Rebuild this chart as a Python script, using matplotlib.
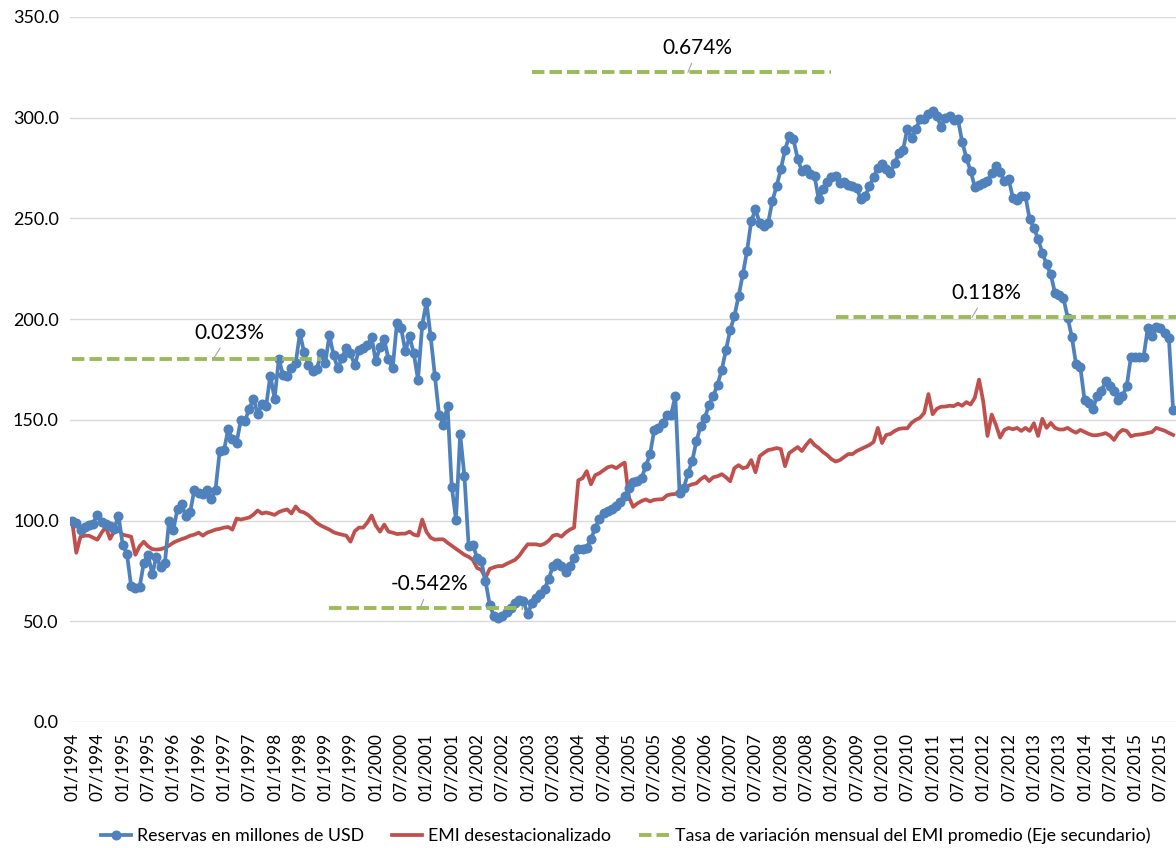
import numpy as np
import pandas as pd
import matplotlib
matplotlib.use("Agg")
import matplotlib.pyplot as plt

plt.rcParams['font.family'] = ['Lato', 'DejaVu Sans']

# monthly categories 01/1994 .. 12/2015
months = pd.date_range("1994-01-01", "2015-12-01", freq="MS")
labels = [d.strftime("%m/%Y") for d in months]

# Reservas en millones de USD (from 01/1994)
reservas = [
    100, 98.8, 95.5, 96.7, 98, 98.5, 103, 99.2, 98.5, 97.2, 95.9, 102.5,
    88, 83.6, 67.3, 66.5, 66.8, 79, 83, 73.5, 82, 77, 79, 100,
    95.5, 105.8, 108, 102.2, 104.3, 115.4, 113.8, 113, 115.4, 110.8, 115.4, 134.5,
    134.8, 145.3, 140.3, 138.6, 150, 149.5, 155.5, 160.5, 153, 157.7, 157, 172,
    160.5, 180, 172.5, 171.8, 175.8, 178, 193, 183.5, 177, 174, 175, 183,
    178, 192, 182, 175.5, 180.8, 185.6, 183, 177, 184.7, 185.6, 187, 191,
    179, 186.4, 190, 180, 175.6, 198, 195.5, 184, 191.4, 183, 170, 197,
    208.5, 191.4, 171.7, 152.4, 147.5, 157, 116.9, 100.5, 142.9, 122.2, 87.6, 88,
    81.5, 79.8, 70, 58.3, 52.5, 51.5, 52.5, 54.5, 56.8, 59, 60.8, 60,
    53.5, 59, 61.5, 63.5, 66, 71, 77.5, 78.7, 77.4, 74.5, 77.4, 81.5,
    85.7, 86, 86.5, 90.6, 96.4, 100.6, 103.9, 104.5, 105.5, 107, 109, 112,
    116, 119, 119.5, 121, 127, 132.8, 145, 146, 148.5, 152.6, 152.6, 161.8,
    113.7, 116, 123.6, 129.5, 139.4, 146.9, 151, 157.6, 161.8, 167.5, 174.7, 184.6,
    194.5, 201.5, 211.4, 222.2, 233.8, 248.7, 254.5, 247.8, 246.2, 247.8, 258.6, 266,
    274.3, 283.9, 290.9, 289.2, 279.6, 273.5, 274.3, 271.9, 271, 259.4, 264.4, 268,
    270.6, 271, 267.7, 268, 266.8, 266, 265.2, 259.4, 261, 266, 270.6, 275.1,
    276.8, 274.3, 272.6, 277.3, 282.3, 284.2, 294.5, 290, 294.2, 299.2, 299.5, 301.7,
    303.3, 300.8, 295.5, 300, 300.8, 298.8, 299.2, 288, 280, 273.5, 265.7, 266.4,
    267.7, 268.5, 272.4, 276, 273, 268.5, 269.7, 260.3, 259.1, 261, 261, 249.5,
    245.4, 239.6, 233, 227.2, 222.2, 213, 211.8, 210.6, 200.7, 191.2, 177.5, 176.3,
    160, 158.4, 155.4, 162, 164.2, 169.2, 166.7, 164.2, 160, 161.7, 166.7, 181.2,
    181.2, 181.2, 181.2, 195.6, 191.4, 196, 195.6, 193, 190.6, 155,
]

# EMI desestacionalizado
emi = [
    100, 84, 92, 92.5, 92.5, 91.5, 90.5, 94, 96.8, 90.9, 94.7, 95.2,
    93, 92.5, 92, 83, 87.2, 89.5, 87.2, 85.8, 85.6, 85.8, 86.5, 87.6,
    89, 90, 90.8, 91.5, 92.5, 93, 94, 92.5, 94, 94.7, 95.5, 95.9,
    96.5, 96.8, 95.5, 101, 100.5, 101, 101.5, 103, 105, 103.5, 104, 103.5,
    102.8, 104.2, 105, 105.5, 103.5, 107, 104.6, 104, 102.7, 100.8, 98.8, 97.5,
    96.5, 95.5, 94.2, 93.5, 93, 92.5, 89.5, 94.7, 96.5, 96.5, 99, 102.5,
    97.5, 94.5, 98, 94.5, 94, 93.3, 93.5, 93.5, 94.5, 93, 92.5, 100.5,
    94.4, 91.5, 90.5, 90.7, 90.7, 89, 87.5, 86, 84.5, 83, 82, 80.5,
    76.5, 75.5, 71.5, 76, 76.8, 77.4, 77.4, 78.5, 79.5, 80.5, 82.5, 85.5,
    88.2, 88.2, 88.2, 87.7, 88.5, 90, 92.5, 93, 92, 94, 95.5, 96.5,
    120, 121, 124.5, 118, 122.5, 123.5, 125, 126.5, 127, 126, 127.5, 128.8,
    111.5, 106.8, 108.5, 109.7, 110.5, 109.5, 110.3, 110.5, 110.6, 112.5, 113, 113.2,
    114.5, 116, 117.2, 118, 118.5, 120.5, 121.9, 119.6, 121.5, 122, 123, 121.5,
    119.5, 126, 127.5, 126, 126.5, 130, 124, 132, 133.6, 135, 135.4, 136,
    135.5, 127, 133.5, 135, 136.5, 134.5, 137.5, 140, 137.5, 136, 134, 132.5,
    130.5, 129.3, 130, 131.5, 133, 133, 134.5, 135.5, 136.5, 137.5, 139, 146,
    138.5, 142.5, 143, 144.5, 145.5, 145.8, 145.8, 148.5, 150, 151, 153.5, 162.8,
    152.8, 155.5, 156.5, 156.6, 157, 156.8, 158, 157, 158.8, 157.6, 161, 170,
    159, 142, 152.6, 147.5, 141.2, 145, 146, 145.3, 146, 144.5, 146, 144.5,
    148.3, 142, 150.5, 146, 148.5, 146, 145.2, 145.2, 146, 144.6, 143.6, 145,
    144, 143, 142.3, 142.4, 142.8, 143.4, 142.2, 140, 143.3, 145, 144.5, 141.8,
    142.5, 142.7, 143, 143.5, 143.9, 146, 145.3, 144.6, 143.5, 142.5,
]

# average monthly EMI growth per period (secondary axis, %)
tasa_periodos = [(0, 59), (61, 107), (109, 180), (181, 263)]
tasa_valores = [0.023, -0.542, 0.674, 0.118]
tasa_labels = ["0.023%", "-0.542%", "0.674%", "0.118%"]

n = len(labels)
x = np.arange(n)

fig = plt.figure(figsize=(11.76, 8.48), dpi=100)
ax = fig.add_axes([0.0595, 0.1486, 0.947, 0.8314])
ax2 = ax.twinx()

ax.plot(x[:len(reservas)], reservas, color="#4F81BD", lw=2.7, marker="o",
        ms=6.2, label="Reservas en millones de USD", zorder=3)
ax.plot(x[:len(emi)], emi, color="#C0504D", lw=2.7,
        label="EMI desestacionalizado", zorder=2)

for i, ((a, b), v) in enumerate(zip(tasa_periodos, tasa_valores)):
    xs = np.arange(a, b + 1)
    ax2.plot(xs, np.full(len(xs), v), color="#9BBB59", lw=2.8,
             ls=(0, (3.2, 1.3)),
             label="Tasa de variación mensual del EMI promedio (Eje secundario)"
             if i == 0 else "_nolegend_")

# data labels with leader lines
txt_pos = [(37.4, 0.083), (84.8, -0.487), (148.3, 0.730), (216.8, 0.174)]
pt_pos = [33.4, 82.5, 146, 213.3]
for lab, (tx, ty), px, v in zip(tasa_labels, txt_pos, pt_pos, tasa_valores):
    ax2.annotate(lab, xy=(px, v), xytext=(tx, ty), ha="center", va="center",
                 fontsize=15, color="#000000",
                 arrowprops=dict(arrowstyle="-", color="#A6A6A6", lw=0.8,
                                 shrinkA=2, shrinkB=0))

ax.set_xlim(-0.5, n - 0.5)
ax.set_ylim(0, 350)
ax.set_yticks(np.arange(0, 351, 50))
ax.set_yticklabels([f"{v:.1f}" for v in np.arange(0, 351, 50)], fontsize=13)
ax.set_xticks(x[::6])
ax.set_xticklabels(labels[::6], rotation=90, fontsize=12.5)
ax.grid(axis="y", color="#D9D9D9", lw=1)
ax.set_axisbelow(True)
ax.tick_params(length=0, pad=8, colors="#000000")
for s in ax.spines.values():
    s.set_visible(False)

ax2.set_ylim(-0.8, 0.8)
ax2.set_yticks([])
for s in ax2.spines.values():
    s.set_visible(False)

h1, l1 = ax.get_legend_handles_labels()
h2, l2 = ax2.get_legend_handles_labels()
fig.legend(h1 + h2, l1 + l2, loc="lower center", bbox_to_anchor=(0.532, -0.014),
           ncol=3, frameon=False, fontsize=12.8, handlelength=1.7,
           columnspacing=1.6, handletextpad=0.3)

fig.savefig("out.png", dpi=100)
